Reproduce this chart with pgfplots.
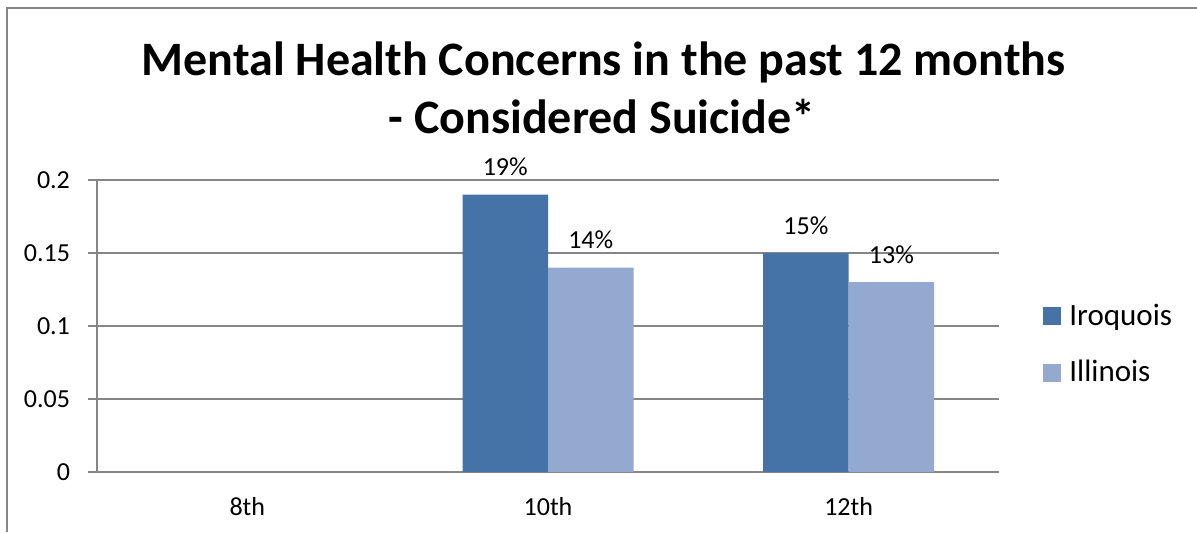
\documentclass[border=0pt]{standalone}
\usepackage{pgfplots}
\pgfplotsset{compat=1.18}
\usepackage{fontspec}
\setmainfont{Carlito}
\definecolor{iroq}{RGB}{69,114,167}
\definecolor{illi}{RGB}{147,169,207}
\definecolor{gridgray}{RGB}{134,134,134}
\begin{document}
\begin{tikzpicture}
\useasboundingbox (0,0) rectangle (598.5pt,266pt);
\draw[gridgray, line width=1.3pt] (3.5pt,0) -- (3.5pt,262pt) -- (598.5pt,262pt);
\node[anchor=base, inner sep=0pt, font=\bfseries\fontsize{24}{28}\selectfont] at (301.8pt,228.5pt) {Mental Health Concerns in the past 12 months};
\node[anchor=base, inner sep=0pt, font=\bfseries\fontsize{24}{28}\selectfont] at (301pt,199.5pt) {- Considered Suicide*};
\begin{axis}[
  at={(48.5pt,30pt)}, anchor=south west,
  scale only axis, width=451pt, height=146pt,
  xmin=-0.5, xmax=2.5, ymin=0, ymax=0.2,
  axis x line*=bottom, axis y line*=left,
  axis line style={gridgray, line width=0.65pt},
  tick align=outside,
  ytick={0,0.05,0.1,0.15,0.2},
  yticklabel style={font=\fontsize{13}{15}\selectfont, xshift=-5.5pt},
  /pgf/number format/.cd, fixed, precision=2, assume math mode=true, /pgfplots/.cd,
  ymajorgrids, grid style={gridgray, line width=0.65pt},
  major tick length=4.5pt,
  xtick={0,1,2}, xticklabels={8th,10th,12th},
  x tick style={draw=none},
  minor xtick={-0.5,0.5,1.5,2.5},
  minor tick length=4pt,
  minor x tick style={gridgray, line width=0.65pt},
  y tick style={gridgray, line width=0.65pt},
  xticklabel style={font=\fontsize{13}{15}\selectfont, yshift=-4.5pt},
  ybar=0pt, bar width=42.75pt,
  nodes near coords,
  point meta=explicit symbolic,
  every node near coord/.append style={anchor=base, yshift=9.5pt, font=\fontsize{13}{15}\selectfont, black},
  legend cell align=left,
  legend style={at={(1,0.437)}, anchor=west, xshift=22pt, draw=none, fill=none,
    font=\fontsize{15.5}{18}\selectfont, row sep=16pt, inner sep=0pt,
    nodes={inner sep=0pt}},
  legend image code/.code={\fill[#1] (0pt,-4.5pt) rectangle (9pt,4.5pt);},
  legend style={/tikz/every odd column/.append style={column sep=4pt}},
]
\addplot[fill=iroq, draw=none] coordinates {(1,0.19) [19\%] (2,0.15) [15\%]};
\addplot[fill=illi, draw=none] coordinates {(1,0.14) [14\%] (2,0.13) [13\%]};
\legend{Iroquois, Illinois}
\end{axis}
\end{tikzpicture}
\end{document}
